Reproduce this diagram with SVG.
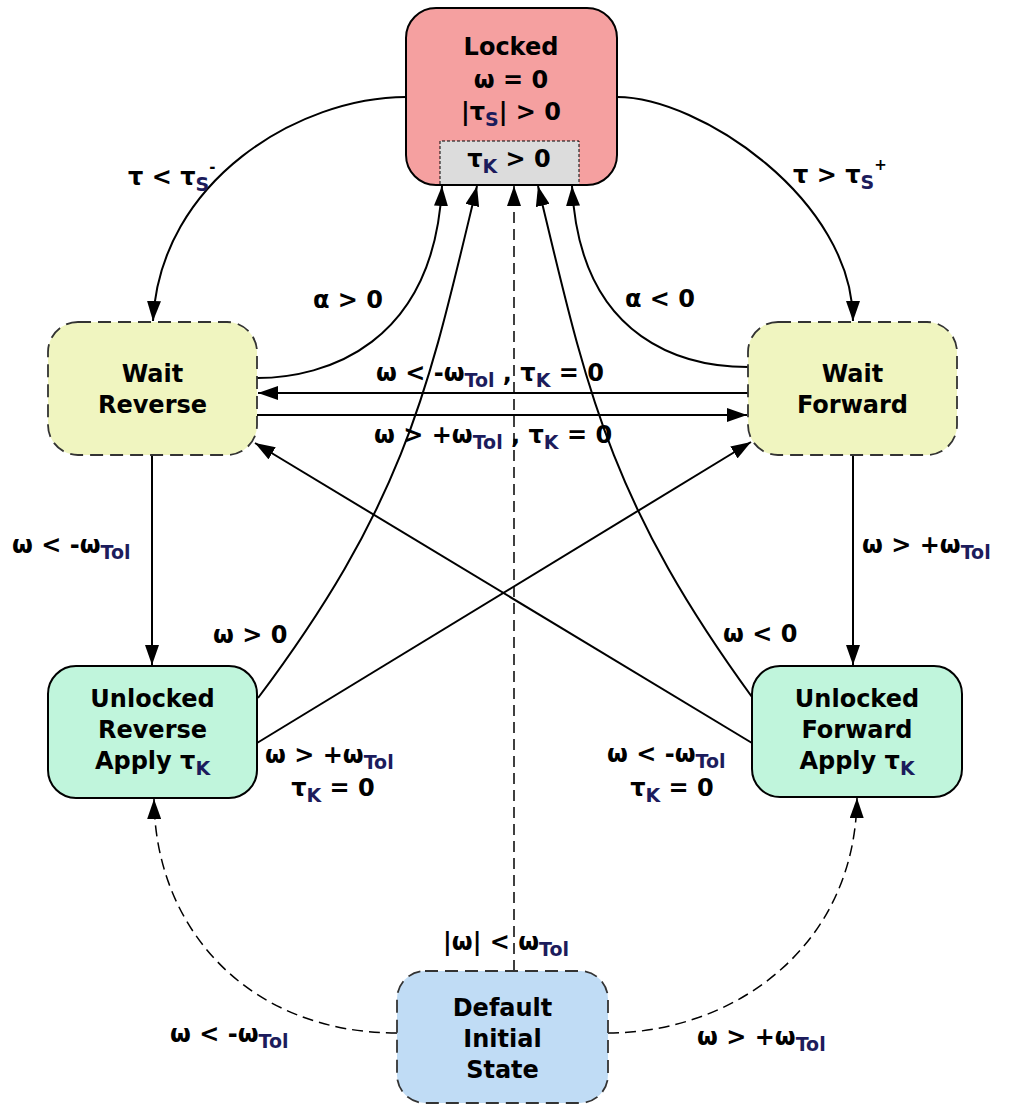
<svg xmlns="http://www.w3.org/2000/svg" width="1015" height="1105" viewBox="0 0 1015 1105">
<defs>
<style>
text{font-family:"DejaVu Sans","Liberation Sans",sans-serif;font-weight:bold;font-size:24px;fill:#000}
.nt{text-anchor:middle}
.sub{font-size:19px;fill:#1c1c5c}
.sup{font-size:15px}
.node{stroke:#000;stroke-width:2}
.dash{stroke:#333;stroke-width:1.8;stroke-dasharray:13 7}
.e{fill:none;stroke:#000;stroke-width:2}
.ed{fill:none;stroke:#000;stroke-width:1.5;stroke-dasharray:11 6}
</style>
<marker id="ah" viewBox="0 0 20 14" markerWidth="20" markerHeight="14" refX="20" refY="7" orient="auto" markerUnits="userSpaceOnUse">
<path d="M0,0 L20,7 L0,14 z" fill="#000"/>
</marker>
</defs>
<rect width="1015" height="1105" fill="#fff"/>

<g id="connectors">
<path class="e" d="M406,97 C300,97 160,180 153,321" marker-end="url(#ah)"/>
<path class="e" d="M617,97 C700,97 853,200 853,321" marker-end="url(#ah)"/>
<path class="e" d="M257,378 C325,378 434,345 442,186" marker-end="url(#ah)"/>
<path class="e" d="M748,367 C690,367 580,345 572,186" marker-end="url(#ah)"/>
<path class="e" d="M748,393 H258" marker-end="url(#ah)"/>
<path class="e" d="M257,415 H747" marker-end="url(#ah)"/>
<path class="e" d="M152,455 V665" marker-end="url(#ah)"/>
<path class="e" d="M853,455 V665" marker-end="url(#ah)"/>
<path class="e" d="M752,743 L255,443" marker-end="url(#ah)"/>
<path class="e" d="M257,743 L751,442" marker-end="url(#ah)"/>
<path class="e" d="M258,698 C408,498 429,385 477,186" marker-end="url(#ah)"/>
<path class="e" d="M752,697 C607,498 586,385 538,186" marker-end="url(#ah)"/>
<path class="ed" d="M514,971 V186" marker-end="url(#ah)"/>
<path class="ed" d="M397,1033 C250,1033 155,930 154,799" marker-end="url(#ah)"/>
<path class="ed" d="M608,1033 C730,1033 855,950 857,798" marker-end="url(#ah)"/>
</g>

<g id="edge-labels">
<text x="128" y="185">τ &lt; τ<tspan class="sub" dy="6">S</tspan><tspan class="sup" dy="-19">-</tspan></text>
<text x="793" y="183">τ &gt; τ<tspan class="sub" dy="6">S</tspan><tspan class="sup" dy="-19">+</tspan></text>
<text x="313" y="308">α &gt; 0</text>
<text x="625" y="307">α &lt; 0</text>
<text x="376" y="381">ω &lt; -ω<tspan class="sub" dy="6">Tol</tspan><tspan dy="-6"> , τ</tspan><tspan class="sub" dy="6">K</tspan><tspan dy="-6"> = 0</tspan></text>
<text x="374" y="443">ω &gt; +ω<tspan class="sub" dy="6">Tol</tspan><tspan dy="-6"> , τ</tspan><tspan class="sub" dy="6">K</tspan><tspan dy="-6"> = 0</tspan></text>
<text x="12" y="553">ω &lt; -ω<tspan class="sub" dy="6">Tol</tspan></text>
<text x="862" y="553">ω &gt; +ω<tspan class="sub" dy="6">Tol</tspan></text>
<text x="213" y="643">ω &gt; 0</text>
<text x="723" y="642">ω &lt; 0</text>
<text x="265" y="763">ω &gt; +ω<tspan class="sub" dy="6">Tol</tspan></text>
<text x="333" y="796" class="nt">τ<tspan class="sub" dy="6">K</tspan><tspan dy="-6"> = 0</tspan></text>
<text x="607" y="762">ω &lt; -ω<tspan class="sub" dy="6">Tol</tspan></text>
<text x="672" y="796" class="nt">τ<tspan class="sub" dy="6">K</tspan><tspan dy="-6"> = 0</tspan></text>
<text x="443" y="950">|ω| &lt; ω<tspan class="sub" dy="6">Tol</tspan></text>
<text x="170" y="1042">ω &lt; -ω<tspan class="sub" dy="6">Tol</tspan></text>
<text x="697" y="1045">ω &gt; +ω<tspan class="sub" dy="6">Tol</tspan></text>
</g>

<g id="locked">
<rect class="node" x="406" y="8" width="211" height="177" rx="30" fill="#f5a0a0"/>
<rect x="440" y="141" width="139" height="43" fill="#dcdcdc"/>
<path d="M440,184 V141 H579 V184" fill="none" stroke="#000" stroke-width="1" stroke-dasharray="3 2"/>
<text class="nt" x="511" y="55">Locked</text>
<text class="nt" x="511" y="88">ω = 0</text>
<text class="nt" x="511" y="120">|τ<tspan class="sub" dy="6">S</tspan><tspan dy="-6">| &gt; 0</tspan></text>
<text class="nt" x="509" y="167">τ<tspan class="sub" dy="6">K</tspan><tspan dy="-6"> &gt; 0</tspan></text>
</g>

<g id="wait-reverse">
<rect class="dash" x="48" y="322" width="209" height="133" rx="30" fill="#f0f5c0"/>
<text class="nt" x="152.5" y="382">Wait</text>
<text class="nt" x="152.5" y="413">Reverse</text>
</g>

<g id="wait-forward">
<rect class="dash" x="748" y="322" width="209" height="133" rx="30" fill="#f0f5c0"/>
<text class="nt" x="852.5" y="382">Wait</text>
<text class="nt" x="852.5" y="413">Forward</text>
</g>

<g id="unlocked-reverse">
<rect class="node" x="48" y="666" width="209" height="132" rx="28" fill="#c0f5dc"/>
<text class="nt" x="152.5" y="707">Unlocked</text>
<text class="nt" x="152.5" y="738">Reverse</text>
<text class="nt" x="152.5" y="769">Apply τ<tspan class="sub" dy="6">K</tspan></text>
</g>

<g id="unlocked-forward">
<rect class="node" x="752" y="666" width="210" height="131" rx="28" fill="#c0f5dc"/>
<text class="nt" x="857" y="707">Unlocked</text>
<text class="nt" x="857" y="738">Forward</text>
<text class="nt" x="857" y="769">Apply τ<tspan class="sub" dy="6">K</tspan></text>
</g>

<g id="default-initial-state">
<rect class="dash" x="397" y="971" width="211" height="132" rx="28" fill="#c0dcf5"/>
<text class="nt" x="502.5" y="1016">Default</text>
<text class="nt" x="502.5" y="1047">Initial</text>
<text class="nt" x="502.5" y="1078">State</text>
</g>
</svg>
